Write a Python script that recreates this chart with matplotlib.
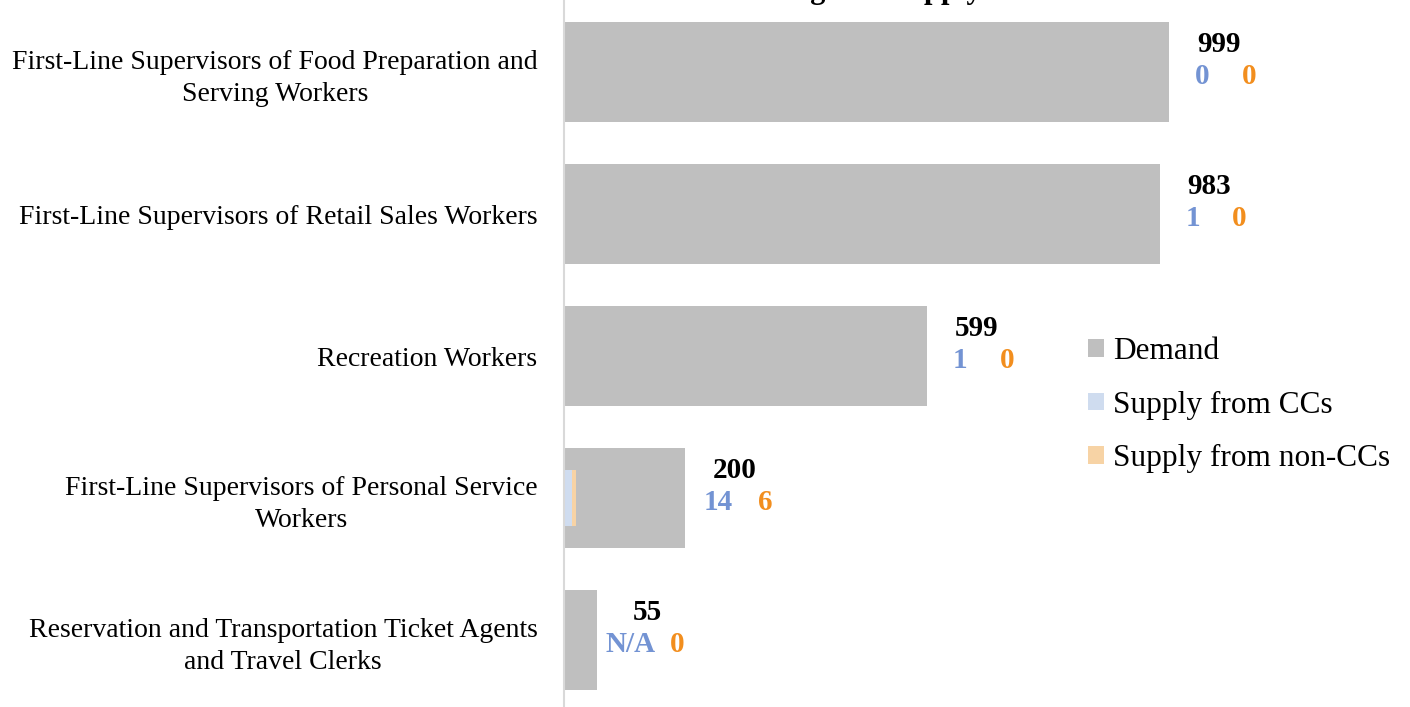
import numpy as np
import matplotlib
matplotlib.use("Agg")
import matplotlib.pyplot as plt

# ---- data ----
occupations = [
    "First-Line Supervisors of Food Preparation and\nServing Workers",
    "First-Line Supervisors of Retail Sales Workers",
    "Recreation Workers",
    "First-Line Supervisors of Personal Service\nWorkers",
    "Reservation and Transportation Ticket Agents\nand Travel Clerks",
]
demand = [999, 983, 599, 200, 55]
supply_cc = [0, 1, 1, 14, None]      # None = N/A
supply_noncc = [0, 0, 0, 6, 0]
title = "Demand for Training and Supply"

# ---- colours ----
c_demand = "#bfbfbf"
c_cc = "#cfdcef"
c_noncc = "#f7d3a5"
c_cc_txt = "#7393d3"
c_noncc_txt = "#f28e1e"

plt.rcParams["font.family"] = ["Liberation Serif", "DejaVu Serif"]

fig = plt.figure(figsize=(14.1, 7.07), dpi=100)
ax = fig.add_axes([564 / 1410, -4 / 707, 727 / 1410, 710 / 707])

y = np.arange(len(occupations))
cc_vals = np.array([v if v is not None else 0 for v in supply_cc], dtype=float)

ax.barh(y, demand, height=0.71, color=c_demand, label="Demand")
ax.barh(y, cc_vals, height=0.4, color=c_cc, label="Supply from CCs")
ax.barh(y, supply_noncc, height=0.4, left=cc_vals, color=c_noncc, label="Supply from non-CCs")

# value labels: demand on top, CC and non-CC supply below it
for i, d in enumerate(demand):
    cc_txt = "N/A" if supply_cc[i] is None else str(supply_cc[i])
    ax.annotate(str(d), (d, i), xytext=(50, 28), textcoords="offset pixels",
                ha="center", va="center", fontsize=21, fontweight="bold", color="black")
    ax.annotate(cc_txt, (d, i), xytext=(33, -5), textcoords="offset pixels",
                ha="center", va="center", fontsize=21, fontweight="bold", color=c_cc_txt)
    ax.annotate(str(supply_noncc[i]), (d, i), xytext=(80, -5), textcoords="offset pixels",
                ha="center", va="center", fontsize=21, fontweight="bold", color=c_noncc_txt)

ax.set_xlim(0, 1200)
ax.set_ylim(len(occupations) - 0.5, -0.5)
ax.set_yticks(y)
ax.set_yticklabels(occupations, fontsize=20)
for lbl in ax.get_yticklabels():
    lbl.set_multialignment("center")
    lbl.set_linespacing(1.35)
ax.tick_params(axis="y", length=0, pad=19)
ax.set_xticks([])
for s in ["top", "right", "bottom"]:
    ax.spines[s].set_visible(False)
ax.spines["left"].set_color("#d9d9d9")
ax.spines["left"].set_linewidth(1.5)

ax.legend(loc="center left", bbox_to_anchor=(1088 / 1410, 1 - 405 / 707),
          bbox_transform=fig.transFigure, frameon=False, fontsize=22.5,
          handlelength=0.5, handleheight=0.5, handletextpad=0.3, labelspacing=0.78,
          borderaxespad=0, borderpad=0)

# title sits mostly above the canvas, only descenders show
fig.text(982 / 1410, 1 + 2 / 707, title, ha="right", va="baseline",
         fontsize=22, fontweight="bold")

fig.savefig("out.png", dpi=100)
